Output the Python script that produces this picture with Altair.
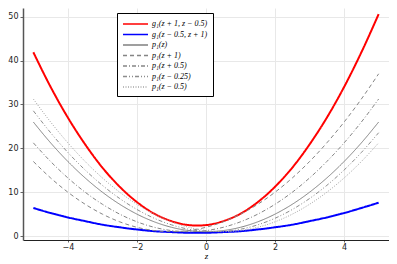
import altair as alt
import pandas as pd

z = [-5, -4.5, -4, -3.5, -3, -2.5, -2, -1.5, -1, -0.5, -0.25, 0, 0.5, 1, 1.5, 2, 2.5, 3, 3.5, 4, 4.5, 5]

labels = ["g₁(z + 1, z − 0.5)", "g₁(z − 0.5, z + 1)", "p₁(z)", "p₁(z + 1)",
          "p₁(z + 0.5)", "p₁(z − 0.25)", "p₁(z − 0.5)"]

red = [41.9, 34.0, 27.0, 20.9, 15.6, 11.25, 7.75, 5.1, 3.4, 2.5, 2.4, 2.5, 3.4, 5.1, 7.75, 11.25, 15.6, 20.9, 27.0, 34.0, 41.9, 50.6]
blue = [6.4, 5.25, 4.25, 3.4, 2.6, 2.0, 1.5, 1.1, 0.9, 0.75, 0.73, 0.75, 0.9, 1.1, 1.5, 2.0, 2.6, 3.4, 4.25, 5.25, 6.4, 7.6]
p1z = [26, 21.25, 17, 13.25, 10, 7.25, 5, 3.25, 2, 1.25, 1.06, 1, 1.25, 2, 3.25, 5, 7.25, 10, 13.25, 17, 21.25, 26]
p1zp1 = [17, 13.25, 10, 7.25, 5, 3.25, 2, 1.25, 1, 1.25, 1.56, 2, 3.25, 5, 7.25, 10, 13.25, 17, 21.25, 26, 31.25, 37]
p1zp05 = [21.25, 17, 13.25, 10, 7.25, 5, 3.25, 2, 1.25, 1, 1.06, 1.25, 2, 3.25, 5, 7.25, 10, 13.25, 17, 21.25, 26, 31.25]
p1zm025 = [28.56, 23.56, 19.06, 15.06, 11.56, 8.56, 6.06, 4.06, 2.56, 1.56, 1.25, 1.06, 1.06, 1.56, 2.56, 4.06, 6.06, 8.56, 11.56, 15.06, 19.06, 23.56]
p1zm05 = [31.25, 26, 21.25, 17, 13.25, 10, 7.25, 5, 3.25, 2, 1.56, 1.25, 1, 1.25, 2, 3.25, 5, 7.25, 10, 13.25, 17, 21.25]

series = [red, blue, p1z, p1zp1, p1zp05, p1zm025, p1zm05]

colors = ["#ff0000", "#0000ff", "#808080", "#858585", "#858585", "#8c8c8c", "#a5a5a5"]
dashes = [[1, 0], [1, 0], [1, 0], [4, 3], [4, 2, 1, 2], [4, 2, 1, 2, 1, 2], [1, 1.5]]
widths = [2, 2, 1, 1, 1, 1, 1]

rows = []
for lab, vals, w in zip(labels, series, widths):
    for zz, v in zip(z, vals):
        rows.append({"z": zz, "value": v, "series": lab, "w": w})
df = pd.DataFrame(rows)

legend = alt.Legend(
    title=None, orient="none", legendX=94, legendY=5,
    symbolType="M-1,0L4,0", symbolSize=100, symbolStrokeWidth=1.5,
    labelFont="Liberation Serif", labelFontStyle="italic", labelFontSize=8,
    labelColor="#000", rowPadding=0.5, labelOffset=18,
    strokeColor="#000", fillColor="#fff", padding=5, cornerRadius=0,
)

chart = alt.Chart(df).mark_line(interpolate="monotone").encode(
    x=alt.X("z:Q", scale=alt.Scale(domain=[-5.3, 5.3], nice=False, zero=False),
            axis=alt.Axis(values=[-4, -2, 0, 2, 4], title="z", titleFont="Liberation Serif",
                          titleFontStyle="italic", titleFontWeight="normal", titleFontSize=9,
                          titlePadding=0, labelFontSize=8, labelFont="DejaVu Sans",
                          labelColor="#222", tickSize=2, tickColor="#666", labelPadding=1,
                          domainColor="#222", gridColor="#e8e8e8")),
    y=alt.Y("value:Q", scale=alt.Scale(domain=[-0.9, 52], nice=False, zero=False),
            axis=alt.Axis(values=[0, 10, 20, 30, 40, 50], title=None, labelFontSize=8,
                          labelFont="DejaVu Sans", labelColor="#222", tickSize=3,
                          tickColor="#666", labelPadding=2, domainColor="#555",
                          domainWidth=1.5, gridColor="#e8e8e8")),
    color=alt.Color("series:N", scale=alt.Scale(domain=labels, range=colors), legend=legend),
    strokeDash=alt.StrokeDash("series:N", scale=alt.Scale(domain=labels, range=dashes), legend=legend),
    strokeWidth=alt.StrokeWidth("w:Q", scale=None),
).properties(
    width=366, height=232,
    padding={"left": 15, "top": 0, "right": 0, "bottom": 24},
    autosize=alt.AutoSizeParams(type="none"),
).configure_view(stroke=None)

chart.save("out.html", embed_options={"renderer": "svg", "actions": False})
